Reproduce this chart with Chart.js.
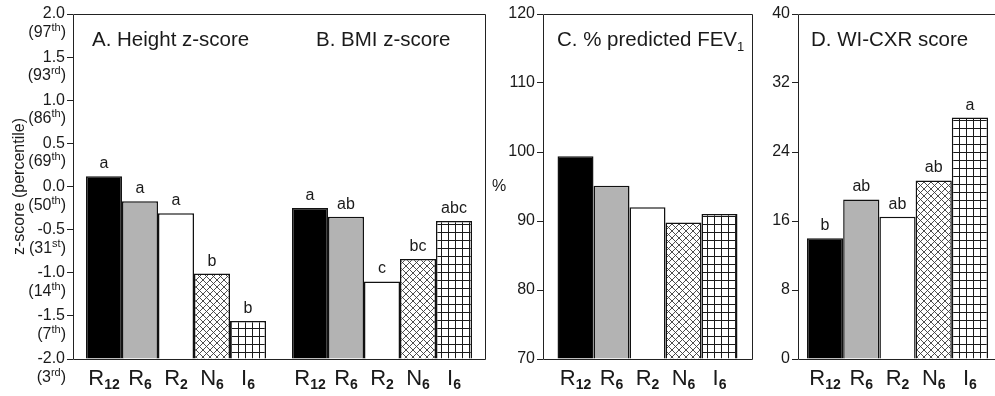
<!DOCTYPE html>
<html>
<head>
<meta charset="utf-8">
<script src="https://cdn.jsdelivr.net/npm/chart.js@4.4.1/dist/chart.umd.min.js"></script>
<style>
  html, body { margin: 0; padding: 0; background: #fff; overflow: hidden; }
  #wrap { position: relative; width: 995px; height: 396px; overflow: hidden; }
  canvas { position: absolute; top: 0; }
</style>
</head>
<body>
<div id="wrap">
  <canvas id="c1" width="490" height="396" style="left:0"></canvas>
  <canvas id="c2" width="266" height="396" style="left:490px"></canvas>
  <canvas id="c3" width="245" height="396" style="left:756px"></canvas>
</div>
<script>
// Groupes (lettre + indice)
const catMain = ['R', 'R', 'R', 'N', 'I'];
const catSub = ['12', '6', '2', '6', '6'];

// Valeurs
const heightZ = [0.12, -0.17, -0.31, -1.01, -1.56];
const bmiZ = [-0.25, -0.35, -1.10, -0.84, -0.40];
const fev1 = [99.4, 95.1, 92.0, 89.8, 91.0];
const wicxr = [14.0, 18.5, 16.5, 20.7, 28.0];

// Lettres de significativité
const heightLetters = ['a', 'a', 'a', 'b', 'b'];
const bmiLetters = ['a', 'ab', 'c', 'bc', 'abc'];
const wicxrLetters = ['b', 'ab', 'ab', 'ab', 'a'];

// Percentiles sous les ticks z-score (de -2.0 à 2.0)
const pctNum = ['3', '7', '14', '31', '50', '69', '86', '93', '97'];
const pctSuf = ['rd', 'th', 'th', 'st', 'th', 'th', 'th', 'rd', 'th'];

const FONT = '"Liberation Sans", Arial, sans-serif';
const INK = '#1a1a1a';

// Motifs de remplissage
function crossPattern() {
    const c = document.createElement('canvas');
    c.width = 7; c.height = 7;
    const g = c.getContext('2d');
    g.fillStyle = '#fff';
    g.fillRect(0, 0, 7, 7);
    g.strokeStyle = '#3a3a3a';
    g.lineWidth = 0.9;
    g.beginPath();
    g.moveTo(-1, -1); g.lineTo(8, 8);
    g.moveTo(8, -1); g.lineTo(-1, 8);
    g.stroke();
    return g.createPattern(c, 'repeat');
}

function gridPattern() {
    const c = document.createElement('canvas');
    c.width = 7; c.height = 8;
    const g = c.getContext('2d');
    g.fillStyle = '#fff';
    g.fillRect(0, 0, 7, 8);
    g.fillStyle = '#1a1a1a';
    g.fillRect(0, 0, 1, 8);
    g.fillRect(0, 0, 7, 1);
    return g.createPattern(c, 'repeat');
}

const fills = ['#000000', '#b3b3b3', '#ffffff', crossPattern(), gridPattern()];

// Étiquette avec indice (R12, N6...)
function drawSubLabel(ctx, x, y, main, sub, size, subSize, bold) {
    ctx.font = size + 'px ' + FONT;
    const w1 = ctx.measureText(main).width;
    ctx.font = (bold ? 'bold ' : '') + subSize + 'px ' + FONT;
    const w2 = ctx.measureText(sub).width;
    const x0 = x - (w1 + w2) / 2;
    ctx.textAlign = 'left';
    ctx.textBaseline = 'alphabetic';
    ctx.font = size + 'px ' + FONT;
    ctx.fillText(main, x0, y);
    ctx.font = (bold ? 'bold ' : '') + subSize + 'px ' + FONT;
    ctx.fillText(sub, x0 + w1, y + 4);
}

// Plugin: cadre, étiquettes, lettres, titres
function makeDecor(opts) {
    return {
        id: 'decor',
        afterDraw(chart) {
            const ctx = chart.ctx;
            const a = chart.chartArea;
            ctx.save();
            ctx.fillStyle = INK;

            // Lettres au-dessus des barres + étiquettes de groupe
            chart.data.datasets.forEach(function(ds, di) {
                const meta = chart.getDatasetMeta(di);
                meta.data.forEach(function(bar, ci) {
                    drawSubLabel(ctx, bar.x, 385, catMain[di], catSub[di], 22, 14, true);
                    if (opts.letters && opts.letters[ci]) {
                        ctx.font = '16px ' + FONT;
                        ctx.textAlign = 'center';
                        ctx.textBaseline = 'alphabetic';
                        ctx.fillText(opts.letters[ci][di], bar.x, bar.y - 8);
                    }
                });
            });

            // Titres de panneaux
            (opts.titles || []).forEach(function(t) {
                ctx.font = '20.5px ' + FONT;
                ctx.textAlign = 'left';
                ctx.textBaseline = 'alphabetic';
                ctx.fillText(t.text, t.x, 46);
                if (t.sub) {
                    const w = ctx.measureText(t.text).width;
                    ctx.font = '13px ' + FONT;
                    ctx.fillText(t.sub, t.x + w, 51);
                }
            });

            // Percentiles sous les ticks
            if (opts.percentiles) {
                const ys = chart.scales.y;
                ys.ticks.forEach(function(tk, i) {
                    const py = ys.getPixelForValue(tk.value);
                    const right = a.left - 7;
                    ctx.font = '16px ' + FONT;
                    const wOpen = ctx.measureText('(' + pctNum[i]).width;
                    const wClose = ctx.measureText(')').width;
                    ctx.font = '11px ' + FONT;
                    const wSup = ctx.measureText(pctSuf[i]).width;
                    let x = right - wOpen - wSup - wClose;
                    ctx.textAlign = 'left';
                    ctx.textBaseline = 'alphabetic';
                    ctx.font = '16px ' + FONT;
                    ctx.fillText('(' + pctNum[i], x, py + 23);
                    ctx.font = '11px ' + FONT;
                    ctx.fillText(pctSuf[i], x + wOpen, py + 17);
                    ctx.font = '16px ' + FONT;
                    ctx.fillText(')', x + wOpen + wSup, py + 23);
                });
            }

            // Titre d'axe non pivoté
            if (opts.yLabel) {
                ctx.font = '16px ' + FONT;
                ctx.textAlign = 'center';
                ctx.textBaseline = 'middle';
                ctx.fillText(opts.yLabel, opts.yLabelX, (a.top + a.bottom) / 2);
            }

            // Cadre
            ctx.strokeStyle = '#222';
            ctx.lineWidth = 1;
            const l = Math.round(a.left) + 0.5, t = Math.round(a.top) + 0.5;
            const r = Math.round(a.right) + 0.5, b = Math.round(a.bottom) + 0.5;
            ctx.beginPath();
            if (opts.openRight) {
                ctx.moveTo(r + 10, t); ctx.lineTo(l, t); ctx.lineTo(l, b); ctx.lineTo(r + 10, b);
            } else {
                ctx.rect(l, t, r - l, b - t);
            }
            ctx.stroke();
            ctx.restore();
        }
    };
}

function makeDatasets(valuesByCat, base, catPct) {
    return catMain.map(function(m, i) {
        return {
            label: m + catSub[i],
            data: valuesByCat.map(function(v) { return v[i]; }),
            base: base,
            backgroundColor: fills[i],
            borderColor: '#111',
            borderWidth: 1.5,
            borderSkipped: 'start',
            barPercentage: 1,
            categoryPercentage: catPct
        };
    });
}

function makeOptions(cfg) {
    return {
        responsive: false,
        animation: false,
        devicePixelRatio: 1,
        layout: { padding: { top: 14, right: cfg.padRight, left: 0, bottom: 0 } },
        plugins: { legend: { display: false }, tooltip: { enabled: false } },
        scales: {
            x: {
                grid: { display: false },
                border: { display: false },
                ticks: { display: false },
                afterFit: function(s) { s.height = 37; }
            },
            y: {
                min: cfg.min,
                max: cfg.max,
                afterFit: function(s) { s.width = cfg.yWidth; },
                grid: { display: true, drawOnChartArea: false, drawTicks: true, tickLength: 6, color: '#222' },
                border: { display: false },
                ticks: {
                    stepSize: cfg.step,
                    padding: 2,
                    color: INK,
                    font: { family: FONT, size: 16 },
                    callback: cfg.fmt
                },
                title: cfg.title ? {
                    display: true,
                    text: cfg.title,
                    color: INK,
                    font: { family: FONT, size: 16 },
                    padding: { top: 10, bottom: 0 }
                } : { display: false }
            }
        }
    };
}

// Panneau A + B : z-scores
new Chart(document.getElementById('c1'), {
    type: 'bar',
    data: { labels: ['A', 'B'], datasets: makeDatasets([heightZ, bmiZ], -2, 0.874) },
    options: makeOptions({
        min: -2, max: 2, step: 0.5, yWidth: 73, padRight: 5,
        fmt: function(v) { return v.toFixed(1); },
        title: 'z-score (percentile)'
    }),
    plugins: [makeDecor({
        letters: [heightLetters, bmiLetters],
        percentiles: true,
        titles: [{ text: 'A. Height z-score', x: 92 }, { text: 'B. BMI z-score', x: 316 }]
    })]
});

// Panneau C : % VEMS prédit
new Chart(document.getElementById('c2'), {
    type: 'bar',
    data: { labels: ['C'], datasets: makeDatasets([fev1], 70, 0.861) },
    options: makeOptions({
        min: 70, max: 120, step: 10, yWidth: 53, padRight: 4,
        fmt: function(v) { return String(v); }
    }),
    plugins: [makeDecor({
        yLabel: '%', yLabelX: 9,
        titles: [{ text: 'C. % predicted FEV', sub: '1', x: 67 }]
    })]
});

// Panneau D : score WI-CXR
new Chart(document.getElementById('c3'), {
    type: 'bar',
    data: { labels: ['D'], datasets: makeDatasets([wicxr], 0, 0.91) },
    options: makeOptions({
        min: 0, max: 40, step: 8, yWidth: 42, padRight: 4,
        fmt: function(v) { return String(v); }
    }),
    plugins: [makeDecor({
        letters: [wicxrLetters],
        openRight: true,
        titles: [{ text: 'D. WI-CXR score', x: 55 }]
    })]
});
</script>
</body>
</html>
